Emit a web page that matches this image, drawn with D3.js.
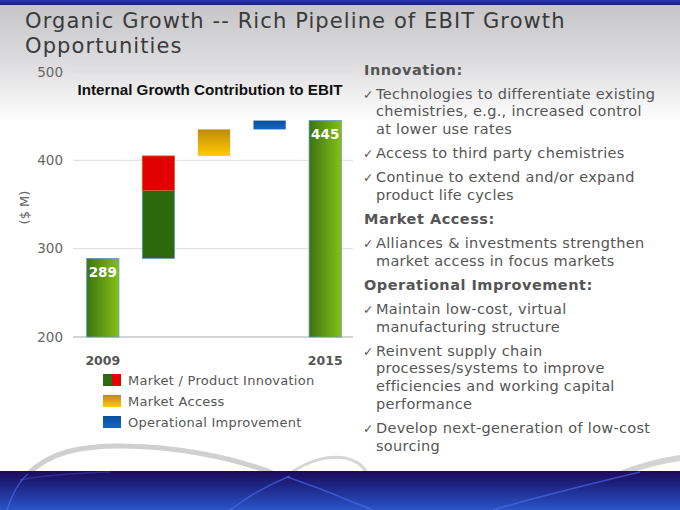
<!DOCTYPE html>
<html><head><meta charset="utf-8">
<script src="https://cdn.jsdelivr.net/npm/d3@7"></script>
<style>html,body{margin:0;padding:0;background:#fff;}svg{display:block;}</style>
</head><body>
<script>
// ---- DATA ----
const categories = ["2009", "Innovation", "Market Access", "Operational", "2015"];
const xTickLabels = ["2009", "", "", "", "2015"];
const segCategory = ["2009", "Innovation", "Innovation", "Market Access", "Operational", "2015"];
const segLow  = [200, 289, 366, 405, 435, 200];
const segHigh = [289, 366, 405, 435, 445, 445];
const segKind = ["total", "innovBase", "innovTop", "access", "oper", "total"];
const valueLabels = [289, 445];
const valueLabelCats = ["2009", "2015"];
const yTicks = [200, 300, 400, 500];
const legendLabels = ["Market / Product Innovation", "Market Access", "Operational Improvement"];
const legendKinds = ["innov", "access", "oper"];
const titleLines = ["Organic Growth -- Rich Pipeline of EBIT Growth", "Opportunities"];
const chartTitle = "Internal Growth Contribution to EBIT";
const yAxisTitle = "($ M)";
const bulletText = [
  {h: "Innovation:"},
  {b: ["Technologies to differentiate existing", "chemistries, e.g., increased control", "at lower use rates"]},
  {b: ["Access to third party chemistries"]},
  {b: ["Continue to extend and/or expand", "product life cycles"]},
  {h: "Market Access:"},
  {b: ["Alliances & investments strengthen", "market access in focus markets"]},
  {h: "Operational Improvement:"},
  {b: ["Maintain low-cost, virtual", "manufacturing structure"]},
  {b: ["Reinvent supply chain", "processes/systems to improve", "efficiencies and working capital", "performance"]},
  {b: ["Develop next-generation of low-cost", "sourcing"]}
];

const W = 680, H = 510;
const FONT = "DejaVu Sans, Verdana, sans-serif";
const svg = d3.select("body").append("svg").attr("width", W).attr("height", H);
const defs = svg.append("defs");

function lin(id, x2, y2, stops) {
  const g = defs.append("linearGradient").attr("id", id)
    .attr("x1", 0).attr("y1", 0).attr("x2", x2).attr("y2", y2);
  stops.forEach(s => g.append("stop").attr("offset", s[0]).attr("stop-color", s[1]));
}
lin("bg", 0, 1, [[0, "#c4c4c6"], [0.12, "#dcdcde"], [0.24, "#ffffff"], [1, "#ffffff"]]);
lin("band", 0, 1, [[0, "#1e0a5c"], [0.35, "#1c2380"], [1, "#2a54c8"]]);
lin("topband", 0, 1, [[0, "#2a3aa8"], [1, "#14206e"]]);
lin("totalG", 1, 0, [[0, "#3c7412"], [1, "#84c016"]]);
lin("accessG", 0, 1, [[0, "#c08a0c"], [1, "#ffcb00"]]);
lin("operG", 0, 1, [[0, "#0a4e9e"], [1, "#1466c0"]]);
lin("innovLeg", 1, 0, [[0, "#2f6a10"], [0.5, "#2f6a10"], [0.5, "#e60000"], [1, "#e60000"]]);

// Background
svg.append("rect").attr("width", W).attr("height", H).attr("fill", "url(#bg)");
svg.append("rect").attr("width", W).attr("height", 5).attr("fill", "url(#topband)");

// Swooshes
const sw = svg.append("g").attr("fill", "none").attr("stroke-linecap", "round");
sw.append("path").attr("d", "M28,474 C50,452 80,446 120,446 C170,446 230,456 275,474")
  .attr("stroke", "#d0d0d0").attr("stroke-width", 5);
sw.append("path").attr("d", "M292,472 C310,460 330,455 345,458 C358,461 364,466 367,474")
  .attr("stroke", "#d6d6d6").attr("stroke-width", 3);
sw.append("path").attr("d", "M620,474 C640,466 660,461 680,458")
  .attr("stroke", "#d4d4d4").attr("stroke-width", 6);

// Bottom band
svg.append("rect").attr("y", 471).attr("width", W).attr("height", H - 471).attr("fill", "url(#band)");
const bl = svg.append("g").attr("fill", "none").attr("stroke", "#5070f0").attr("stroke-opacity", 0.6).attr("stroke-width", 1.5);
bl.append("path").attr("d", "M7,510 C12,495 18,482 28,474");
bl.append("path").attr("d", "M230,510 C250,495 270,484 290,476");
bl.append("path").attr("d", "M287,477 C310,485 330,492 345,499 C358,504 366,507 373,510");
bl.append("path").attr("d", "M493,510 C540,496 590,484 640,472");
bl.append("path").attr("d", "M20,480 C40,476 80,473 110,472").attr("stroke-opacity", 0.3);

// Title
svg.append("g").selectAll("text").data(titleLines).join("text")
  .attr("x", 25).attr("y", (d, i) => 28 + i * 25)
  .attr("font-family", FONT).attr("font-size", 21).attr("letter-spacing", 1.1)
  .attr("fill", "#3a3a3a").text(d => d);

// ---- CHART ----
const x = d3.scaleBand().domain(categories).range([75, 353]).paddingInner(0.42).paddingOuter(0.21);
const y = d3.scaleLinear().domain([200, 500]).range([337, 72]);

const g = svg.append("g");
g.append("g").selectAll("line").data(yTicks.slice(1)).join("line")
  .attr("x1", 73).attr("x2", 353).attr("y1", d => y(d)).attr("y2", d => y(d))
  .attr("stroke", "#dcdcdc").attr("stroke-width", 1);
g.append("line").attr("x1", 73).attr("x2", 353).attr("y1", y(200)).attr("y2", y(200))
  .attr("stroke", "#a8a8a8").attr("stroke-width", 1);

const yAxis = g.append("g").attr("transform", "translate(73,0)")
  .call(d3.axisLeft(y).tickValues(yTicks).tickSize(0).tickPadding(10));
yAxis.select(".domain").remove();
yAxis.selectAll("text").attr("font-family", FONT)
  .attr("font-size", 13.5).attr("fill", "#666");

const xAxis = g.append("g").attr("transform", `translate(0,${y(200)})`)
  .call(d3.axisBottom(x).tickSize(0).tickPadding(19).tickFormat((d, i) => xTickLabels[i]));
xAxis.select(".domain").remove();
xAxis.selectAll("text").attr("font-family", FONT)
  .attr("font-size", 12.5).attr("font-weight", "bold").attr("fill", "#555");

svg.append("text").attr("transform", `translate(29,${(y(300)+y(400))/2 + 3}) rotate(-90)`)
  .attr("text-anchor", "middle").attr("font-family", FONT)
  .attr("font-size", 13).attr("fill", "#666").text(yAxisTitle);

const fillFor = {total: "url(#totalG)", innovBase: "#2d680c", innovTop: "#e20000", access: "url(#accessG)", oper: "url(#operG)"};
g.append("g").selectAll("rect").data(segCategory.map((c, i) => i)).join("rect")
  .attr("x", i => x(segCategory[i])).attr("width", x.bandwidth())
  .attr("y", i => y(segHigh[i])).attr("height", i => y(segLow[i]) - y(segHigh[i]))
  .attr("fill", i => fillFor[segKind[i]])
  .attr("stroke", i => segKind[i] === "total" || segKind[i] === "innovBase" ? "#5e9cb8" : (segKind[i] === "innovTop" ? "#d06020" : "none"))
  .attr("stroke-width", 0.8);

g.append("g").selectAll("text").data(valueLabels).join("text")
  .attr("x", (d, i) => x(valueLabelCats[i]) + x.bandwidth() / 2)
  .attr("y", d => y(d) + 18.5)
  .attr("text-anchor", "middle").attr("font-family", FONT)
  .attr("font-size", 13.5).attr("font-weight", "bold").attr("fill", "#fff").text(d => d);

svg.append("text").attr("x", 210).attr("y", 95).attr("text-anchor", "middle")
  .attr("font-family", "Liberation Sans, Arial, sans-serif").attr("font-size", 15.2)
  .attr("font-weight", "bold").attr("fill", "#111").text(chartTitle);

// Legend
const legFill = {innov: "url(#innovLeg)", access: "url(#accessG)", oper: "url(#operG)"};
const leg = svg.append("g").selectAll("g").data(legendLabels).join("g")
  .attr("transform", (d, i) => `translate(103,${380 + i * 21})`);
leg.append("rect").attr("x", 0).attr("y", -6).attr("width", 18).attr("height", 12)
  .attr("fill", (d, i) => legFill[legendKinds[i]]);
leg.append("text").attr("x", 25).attr("y", 4.5)
  .attr("font-family", FONT).attr("font-size", 13).attr("letter-spacing", 0.25)
  .attr("fill", "#555").text(d => d);

// Right-side text
const tg = svg.append("g").attr("font-family", FONT).attr("fill", "#555");
let cy = 70;
bulletText.forEach((item, k) => {
  if (k > 0) cy += item.h ? 24.5 : (bulletText[k - 1].h ? 23.5 : 24);
  if (item.h) {
    tg.append("text").attr("x", 364).attr("y", cy + 5).attr("font-size", 14.5)
      .attr("letter-spacing", 0.5).attr("font-weight", "bold").text(item.h);
  } else {
    tg.append("text").attr("x", 363).attr("y", cy + 5).attr("font-size", 12.5).text("\u2713");
    item.b.forEach((line, j) => {
      if (j > 0) cy += 17.8;
      tg.append("text").attr("x", 376).attr("y", cy + 5).attr("font-size", 14.5)
        .attr("letter-spacing", 0.3).text(line);
    });
  }
});
</script>
</body></html>
